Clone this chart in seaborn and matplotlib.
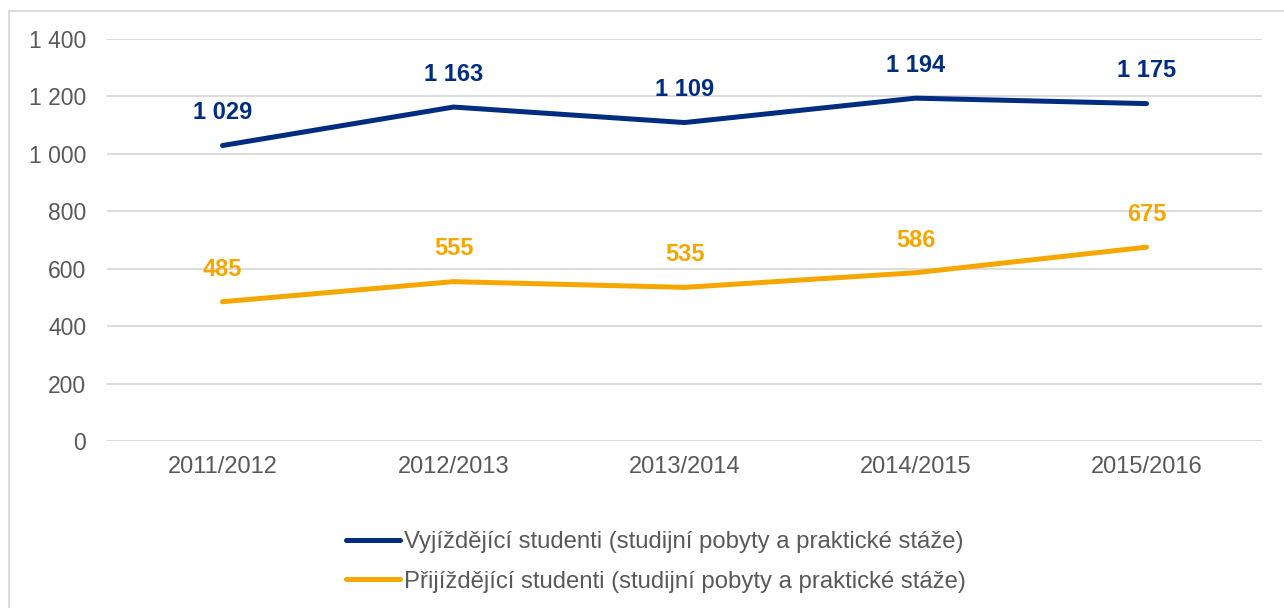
import matplotlib
matplotlib.use("Agg")
import matplotlib.pyplot as plt
import seaborn as sns
import pandas as pd
from matplotlib.ticker import FuncFormatter, MultipleLocator
from matplotlib.patches import Rectangle
from matplotlib.lines import Line2D

years = ["2011/2012", "2012/2013", "2013/2014", "2014/2015", "2015/2016"]
outgoing = [1029, 1163, 1109, 1194, 1175]
incoming = [485, 555, 535, 586, 675]
series_names = ["Vyjíždějící studenti (studijní pobyty a praktické stáže)",
                "Přijíždějící studenti (studijní pobyty a praktické stáže)"]
colors = ["#002D7F", "#F5A700"]

df = pd.DataFrame({
    "year": years * 2,
    "value": outgoing + incoming,
    "series": [series_names[0]] * len(years) + [series_names[1]] * len(years),
})

sns.set_theme(style="white")
plt.rcParams['font.family'] = ['Liberation Sans', 'DejaVu Sans']

fig = plt.figure(figsize=(12.84, 6.08), dpi=100)
ax = fig.add_axes([107/1284, 1-441/608, (1262-107)/1284, (441-39)/608])

sns.lineplot(data=df, x="year", y="value", hue="series", palette=colors,
             linewidth=3.6, ax=ax, legend=False, sort=False)
for line in ax.lines:
    line.set_solid_capstyle("round")

ax.set_xlim(-0.5, len(years) - 0.5)
ax.set_ylim(0, 1400)
ax.yaxis.set_major_locator(MultipleLocator(200))
ax.yaxis.set_major_formatter(FuncFormatter(lambda v, p: f"{int(v):,}".replace(",", " ")))
ax.grid(axis="y", color="#D9D9D9", linewidth=1.3)
ax.set_axisbelow(True)
for s in ax.spines.values():
    s.set_visible(False)
ax.tick_params(axis="y", length=0, pad=15, labelsize=16.5, labelcolor="#595959")
ax.tick_params(axis="x", length=0, pad=11, labelsize=17, labelcolor="#595959")
ax.set_xlabel("")
ax.set_ylabel("")

for vals, c in zip([outgoing, incoming], colors):
    for i, v in enumerate(vals):
        ax.annotate(f"{v:,}".replace(",", " "), (i, v), xytext=(0, 23.5),
                    textcoords="offset points", ha="center", va="center",
                    fontsize=17, fontweight="bold", color=c)

handles = [Line2D([0], [0], color=c, linewidth=3.6, solid_capstyle="round") for c in colors]
fig.legend(handles, series_names, loc="center", bbox_to_anchor=(656/1284, 1-562/608),
           frameon=False, ncol=1, fontsize=17.2, labelcolor="#595959",
           handlelength=2.25, handletextpad=0.2, labelspacing=0.72)

fig.patches.append(Rectangle((9/1284, -0.1), 1.2, 1-11/608+0.1, transform=fig.transFigure,
                             fill=False, edgecolor="#D9D9D9", linewidth=1.3))

fig.savefig("out.png", dpi=100)
